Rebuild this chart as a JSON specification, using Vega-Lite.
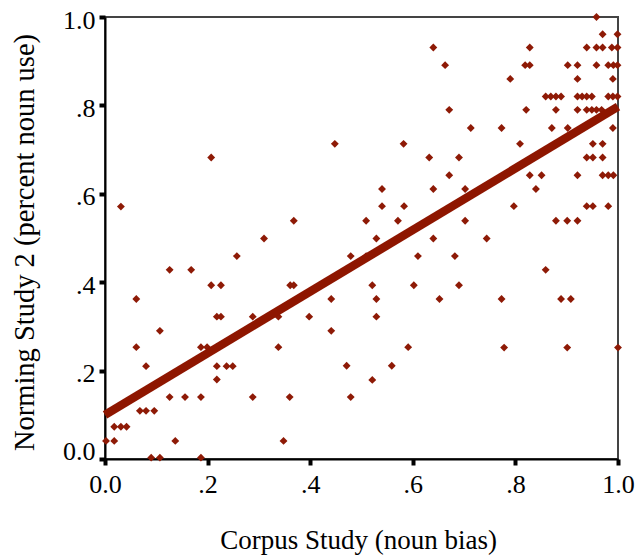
{
  "$schema": "https://vega.github.io/schema/vega-lite/v6.json",
  "width": 513,
  "height": 442,
  "autosize": {"type": "none"},
  "padding": {"left": 105, "top": 17, "right": 21, "bottom": 99},
  "background": "white",
  "config": {
    "view": {"stroke": "#444444", "strokeWidth": 2},
    "axis": {
      "grid": false,
      "domainColor": "black",
      "domainWidth": 2,
      "tickColor": "black",
      "tickWidth": 4,
      "tickSize": 6,
      "labelFlush": false,
      "labelFont": "Liberation Serif",
      "labelFontSize": 26,
      "labelColor": "black",
      "titleFont": "Liberation Serif",
      "titleFontWeight": "normal",
      "titleColor": "black"
    }
  },
  "datasets": {
    "points": [
      {"x":0.031,"y":0.571},{"x":0.207,"y":0.682},{"x":0.448,"y":0.713},
      {"x":0.368,"y":0.539},{"x":0.509,"y":0.539},{"x":0.310,"y":0.499},
      {"x":0.540,"y":0.611},{"x":0.640,"y":0.611},{"x":0.540,"y":0.572},
      {"x":0.583,"y":0.572},{"x":0.571,"y":0.539},{"x":0.529,"y":0.499},
      {"x":0.640,"y":0.499},{"x":0.479,"y":0.459},{"x":0.509,"y":0.459},
      {"x":0.610,"y":0.459},{"x":0.361,"y":0.393},{"x":0.368,"y":0.393},
      {"x":0.521,"y":0.393},{"x":0.602,"y":0.393},{"x":0.288,"y":0.322},
      {"x":0.338,"y":0.322},{"x":0.441,"y":0.362},{"x":0.529,"y":0.362},
      {"x":0.652,"y":0.362},{"x":0.398,"y":0.322},{"x":0.529,"y":0.322},
      {"x":0.441,"y":0.290},{"x":0.338,"y":0.253},{"x":0.591,"y":0.253},
      {"x":0.471,"y":0.211},{"x":0.559,"y":0.211},{"x":0.257,"y":0.459},
      {"x":0.126,"y":0.428},{"x":0.168,"y":0.428},{"x":0.207,"y":0.393},
      {"x":0.226,"y":0.393},{"x":0.061,"y":0.362},{"x":0.218,"y":0.322},
      {"x":0.226,"y":0.322},{"x":0.107,"y":0.290},{"x":0.061,"y":0.253},
      {"x":0.187,"y":0.253},{"x":0.199,"y":0.253},{"x":0.218,"y":0.253},
      {"x":0.080,"y":0.210},{"x":0.218,"y":0.210},{"x":0.237,"y":0.210},
      {"x":0.249,"y":0.210},{"x":0.218,"y":0.180},{"x":0.068,"y":0.109},
      {"x":0.080,"y":0.109},{"x":0.096,"y":0.109},{"x":0.126,"y":0.140},
      {"x":0.156,"y":0.140},{"x":0.187,"y":0.140},{"x":0.288,"y":0.140},
      {"x":0.360,"y":0.140},{"x":0.479,"y":0.140},{"x":0.018,"y":0.073},
      {"x":0.031,"y":0.073},{"x":0.042,"y":0.073},{"x":0.002,"y":0.041},
      {"x":0.018,"y":0.041},{"x":0.137,"y":0.041},{"x":0.348,"y":0.041},
      {"x":0.090,"y":0.003},{"x":0.107,"y":0.003},{"x":0.187,"y":0.003},
      {"x":0.682,"y":0.459},{"x":0.859,"y":0.428},{"x":0.690,"y":0.393},
      {"x":0.773,"y":0.362},{"x":0.889,"y":0.362},{"x":0.908,"y":0.362},
      {"x":0.778,"y":0.252},{"x":0.901,"y":0.252},{"x":1.000,"y":0.252},
      {"x":0.521,"y":0.179},
      {"x":0.958,"y":1.000},{"x":0.970,"y":0.961},{"x":0.999,"y":0.961},
      {"x":0.640,"y":0.931},{"x":0.828,"y":0.931},{"x":0.939,"y":0.931},
      {"x":0.958,"y":0.931},{"x":0.970,"y":0.931},{"x":0.988,"y":0.931},
      {"x":0.999,"y":0.931},{"x":0.663,"y":0.891},{"x":0.819,"y":0.891},
      {"x":0.828,"y":0.891},{"x":0.902,"y":0.891},{"x":0.921,"y":0.891},
      {"x":0.958,"y":0.891},{"x":0.981,"y":0.891},{"x":0.991,"y":0.891},
      {"x":0.999,"y":0.891},{"x":0.790,"y":0.860},{"x":0.921,"y":0.860},
      {"x":0.990,"y":0.860},{"x":0.859,"y":0.820},{"x":0.869,"y":0.820},
      {"x":0.879,"y":0.820},{"x":0.889,"y":0.820},{"x":0.921,"y":0.820},
      {"x":0.930,"y":0.820},{"x":0.939,"y":0.820},{"x":0.949,"y":0.820},
      {"x":0.981,"y":0.820},{"x":0.990,"y":0.820},{"x":0.999,"y":0.820},
      {"x":0.671,"y":0.790},{"x":0.821,"y":0.790},{"x":0.879,"y":0.790},
      {"x":0.921,"y":0.790},{"x":0.939,"y":0.790},{"x":0.949,"y":0.790},
      {"x":0.958,"y":0.790},{"x":0.968,"y":0.790},{"x":0.713,"y":0.749},
      {"x":0.773,"y":0.749},{"x":0.871,"y":0.749},{"x":0.902,"y":0.749},
      {"x":0.990,"y":0.749},{"x":0.582,"y":0.713},{"x":0.809,"y":0.713},
      {"x":0.951,"y":0.713},{"x":0.970,"y":0.713},{"x":0.632,"y":0.682},
      {"x":0.690,"y":0.682},{"x":0.939,"y":0.682},{"x":0.951,"y":0.682},
      {"x":0.970,"y":0.682},{"x":0.671,"y":0.642},{"x":0.828,"y":0.642},
      {"x":0.851,"y":0.642},{"x":0.921,"y":0.642},{"x":0.970,"y":0.642},
      {"x":0.981,"y":0.642},{"x":0.991,"y":0.642},{"x":0.702,"y":0.611},
      {"x":0.840,"y":0.611},{"x":0.797,"y":0.572},{"x":0.939,"y":0.572},
      {"x":0.951,"y":0.572},{"x":0.981,"y":0.572},{"x":0.702,"y":0.539},
      {"x":0.879,"y":0.539},{"x":0.901,"y":0.539},{"x":0.921,"y":0.539},
      {"x":0.744,"y":0.499}
    ],
    "fit": [
      {"x":0.0,"y":0.100},
      {"x":1.0,"y":0.797}
    ]
  },
  "layer": [
    {
      "data": {"name": "points"},
      "mark": {"type": "point", "shape": "diamond", "filled": true, "size": 62, "opacity": 1, "color": "#8e1a06", "strokeWidth": 0},
      "encoding": {
        "x": {
          "field": "x", "type": "quantitative",
          "scale": {"domain": [0, 1], "nice": false, "zero": false},
          "axis": {
            "values": [0, 0.2, 0.4, 0.6, 0.8, 1.0],
            "labelExpr": "datum.value == 0 ? '0.0' : (datum.value == 1 ? '1.0' : '.' + round(datum.value * 10))",
            "labelFlush": false,
            "labelBaseline": "alphabetic",
            "labelPadding": 27,
            "title": "Corpus Study (noun bias)",
            "titleFontSize": 27,
            "titleBaseline": "alphabetic",
            "titleX": 253,
            "titleY": 89
          }
        },
        "y": {
          "field": "y", "type": "quantitative",
          "scale": {"domain": [0, 1], "nice": false, "zero": false},
          "axis": {
            "values": [0, 0.2, 0.4, 0.6, 0.8, 1.0],
            "labelExpr": "datum.value == 0 ? '0.0' : (datum.value == 1 ? '1.0' : '.' + round(datum.value * 10))",
            "labelFlush": false,
            "labelPadding": 4,
            "labelBaseline": {"condition": {"test": "datum.value == 0", "value": "alphabetic"}, "value": "middle"},
            "labelOffset": {"condition": {"test": "datum.value == 0", "value": 0}, "value": 3},
            "title": "Norming Study 2 (percent noun use)",
            "titleFontSize": 28.5,
            "titleAngle": -90,
            "titleBaseline": "alphabetic",
            "titleX": -72,
            "titleY": 225
          }
        }
      }
    },
    {
      "data": {"name": "fit"},
      "mark": {"type": "line", "color": "#8e1600", "strokeWidth": 8.5, "strokeCap": "butt"},
      "encoding": {
        "x": {"field": "x", "type": "quantitative"},
        "y": {"field": "y", "type": "quantitative"}
      }
    }
  ]
}
